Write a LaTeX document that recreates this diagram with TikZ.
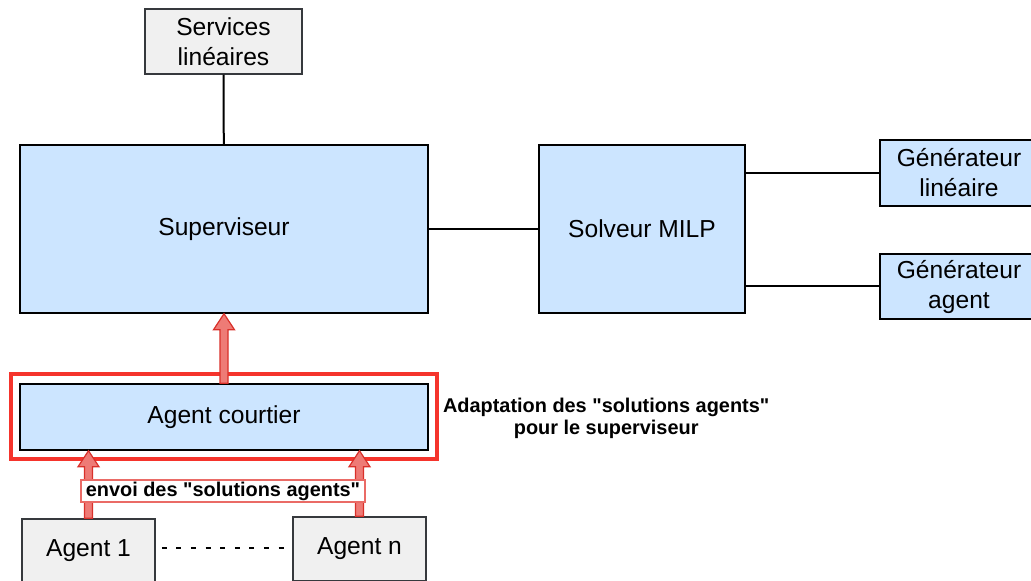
\documentclass[tikz,border=0pt]{standalone}
\usepackage{fontspec}
\setmainfont{Liberation Sans}[Ligatures=TeXOff]
\usepackage{xcolor}
\usetikzlibrary{calc,positioning}
\definecolor{boxblue}{HTML}{CCE5FF}
\definecolor{boxgray}{HTML}{F0F0F0}
\definecolor{edgegray}{HTML}{36393D}
\definecolor{grpred}{HTML}{F5342C}
\definecolor{arrfill}{HTML}{EE7B76}
\definecolor{arredge}{HTML}{D9302A}
\definecolor{lblred}{HTML}{EA6B66}
\tikzset{blue/.style={draw=black, fill=boxblue, line width=.75pt, inner sep=0pt, align=center, font=\fontsize{12.3}{15}\selectfont}, gray/.style={draw=edgegray, fill=boxgray, line width=.75pt, inner sep=0pt, align=center, font=\fontsize{12.3}{15}\selectfont}, link/.style={line width=1pt, color=black}, fatarr/.style={fill=arrfill, draw=arredge, line width=.6pt, line join=miter}, note/.style={font=\bfseries\fontsize{9.95}{11}\selectfont, align=center}}
\newcommand{\fatarrow}[2]{\draw[fatarr] ($(#1)+(-4,0)$) -- ($(#2)+(-4,16)$) -- ($(#2)+(-10.5,16)$) -- (#2) -- ($(#2)+(10.5,16)$) -- ($(#2)+(4,16)$) -- ($(#1)+(4,0)$) -- cycle;}

\begin{document}
\begin{tikzpicture}[x=0.5pt, y=-0.5pt]
\useasboundingbox (0,0) rectangle (1031,581);
\node[gray, minimum width=78.5pt, minimum height=32.5pt] (services) at (223.5,41.5) {Services\\linéaires};
\node[blue, minimum width=204pt, minimum height=84pt] (sup) at (224,229) {Superviseur};
\node[blue, minimum width=103pt, minimum height=84pt] (solv) at (642,229) {Solveur MILP};
\node[blue, minimum width=79pt, minimum height=33pt] (genlin) at (959,173) {Générateur\\linéaire};
\node[blue, minimum width=79pt, minimum height=32.5pt] (genag) at (959,286.5) {Générateur\\agent};
\node[draw=grpred, line width=2pt, minimum width=213pt, minimum height=42.5pt] (grp) at (224,416.5) {};
\node[blue, minimum width=204pt, minimum height=33pt] (courtier) at (224,417) {Agent courtier};
\node[note, anchor=west] (adapt) at ($(grp.east)+(-3,2)$) {Adaptation des "solutions agents"\\pour le superviseur};
\node[gray, minimum width=66.5pt, minimum height=32pt] (agent1) at (88.5,551) {Agent 1};
\node[gray, minimum width=66.5pt, minimum height=32pt] (agentn) at (359.5,549) {Agent n};
% liens
\draw[link] (services) -- (sup);
\draw[link] (sup) -- (solv);
\draw[link] (solv.east |- genlin) -- (genlin);
\draw[link] (solv.east |- genag) -- (genag);
\draw[link, dash pattern=on 2.5pt off 4.8pt, shorten <=3pt, shorten >=2pt] ($(agent1.east)+(0,-3)$) -- ($(agentn.west)+(0,-1)$);
% fleches rouges
\fatarrow{courtier.north}{sup.south}
\fatarrow{agent1.north}{agent1.north |- courtier.south}
\fatarrow{agentn.north}{agentn.north |- courtier.south}
\node[note, draw=lblred, fill=white, line width=.75pt, inner xsep=2.5pt, inner ysep=0pt, minimum height=11pt] (envoi) at (223,491) {envoi des "solutions agents"};
\end{tikzpicture}
\end{document}
